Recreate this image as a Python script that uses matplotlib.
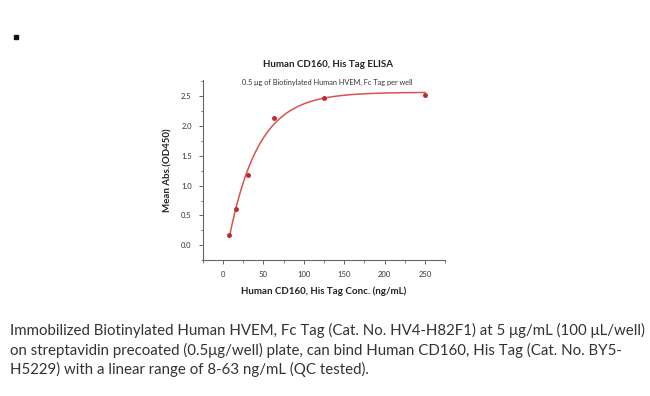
import numpy as np
import matplotlib
matplotlib.use("Agg")
import matplotlib.pyplot as plt
from matplotlib.lines import Line2D

# Data
conc = [7.8, 15.6, 31.25, 62.5, 125, 250]
od450 = [0.17, 0.60, 1.17, 2.14, 2.47, 2.52]
x_ticks = [0, 50, 100, 150, 200, 250]
y_ticks = [0.0, 0.5, 1.0, 1.5, 2.0, 2.5]
title = "Human CD160, His Tag ELISA"
subtitle = "0.5 μg of Biotinylated Human HVEM, Fc Tag per well"
xlabel = "Human CD160, His Tag Conc. (ng/mL)"
ylabel = "Mean Abs.(OD450)"
caption = ("Immobilized Biotinylated Human HVEM, Fc Tag (Cat. No. HV4-H82F1) at 5 μg/mL (100 μL/well)\n"
           "on streptavidin precoated (0.5μg/well) plate, can bind Human CD160, His Tag (Cat. No. BY5-\n"
           "H5229) with a linear range of 8-63 ng/mL (QC tested).")

x = np.array(conc, dtype=float)
y = np.array(od450, dtype=float)

# Exponential rise fit: y = d + (a - d) * exp(-k x); grid over k, linear LS for a, d
best = None
for k in np.linspace(0.005, 0.1, 951):
    g = np.exp(-k * x)
    A = np.column_stack([g, 1 - g])
    coef, *_ = np.linalg.lstsq(A, y, rcond=None)
    r = np.sum((A @ coef - y) ** 2)
    if best is None or r < best[0]:
        best = (r, k, coef)
_, k, (a, d) = best
xf = np.linspace(x.min(), x.max(), 400)
yf = d + (a - d) * np.exp(-k * xf)

plt.rcParams['font.family'] = ['Lato', 'DejaVu Sans']
fig = plt.figure(figsize=(6.5, 3.96), dpi=100)
ax = fig.add_axes([0.312, 0.343, 0.373, 0.455])

ax.plot(xf, yf, color='#d9534f', lw=1.1)
ax.plot(x, y, 'o', color='#c0282d', ms=2.5, ls='none')

ax.set_xlim(-25, 275)
ax.set_ylim(-0.25, 2.77)
ax.set_xticks(x_ticks)
ax.set_yticks(y_ticks)
ax.set_xticks(np.arange(-25, 276, 25), minor=True)
ax.set_yticks(np.arange(-0.25, 2.76, 0.25), minor=True)
ax.set_xticklabels([str(t) for t in x_ticks])
ax.set_yticklabels([f"{t:.1f}" for t in y_ticks])
for s in ['top', 'right']:
    ax.spines[s].set_visible(False)
for s in ['left', 'bottom']:
    ax.spines[s].set_color('#666666')
    ax.spines[s].set_linewidth(0.8)
ax.tick_params(which='major', length=3, width=0.7, color='#666666', labelsize=5.5, labelcolor='#333333', pad=5)
ax.tick_params(which='minor', length=1.8, width=0.6, color='#666666')

ax.set_xlabel(xlabel, fontsize=7, fontweight='bold', labelpad=6, color='#222222')
ax.set_ylabel(ylabel, fontsize=7, fontweight='bold', labelpad=6, color='#222222')

fig.text(0.505, 0.836, title, fontsize=7, fontweight='bold', ha='center', va='center', color='#222222')
fig.text(0.503, 0.792, subtitle, fontsize=5.3, ha='center', va='center', color='#333333')

fig.text(0.015, 0.116, caption, fontsize=10.8, ha='left', va='center', color='#333333', linespacing=1.36)
fig.add_artist(Line2D([0.025], [0.906], marker='s', ms=2.6, color='#111111', ls='none',
                      transform=fig.transFigure))

fig.savefig('out.png', dpi=100)
